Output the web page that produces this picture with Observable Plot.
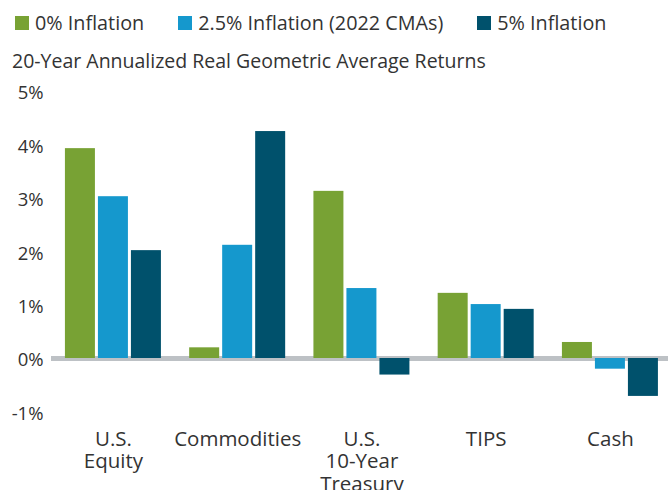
<!DOCTYPE html>
<html>
<head>
<meta charset="utf-8">
<script src="https://cdn.jsdelivr.net/npm/d3@7"></script>
<script src="https://cdn.jsdelivr.net/npm/@observablehq/plot@0.6"></script>
<style>
  html, body { margin: 0; padding: 0; background: #fff; }
  body { font-family: "Open Sans", sans-serif; color: #333; width: 668px; }
  #header { position: relative; height: 80px; width: 668px; }
  #legend { position: absolute; left: 15px; top: 13px; display: flex; gap: 34px; font-size: 19.8px; line-height: 20px; white-space: nowrap; }
  .item { display: flex; align-items: center; }
  .sw { width: 14px; height: 14px; margin-right: 6px; flex: none; }
  #subtitle { position: absolute; left: 12px; top: 51px; font-size: 19.5px; line-height: 20px; white-space: nowrap; }
  #chart svg { display: block; }
</style>
</head>
<body>
<div id="header">
  <div id="legend"></div>
  <div id="subtitle"></div>
</div>
<div id="chart"></div>
<script>
const categories = ["U.S.\nEquity", "Commodities", "U.S.\n10-Year\nTreasury", "TIPS", "Cash"];
const series = ["0% Inflation", "2.5% Inflation (2022 CMAs)", "5% Inflation"];
const inflation0 = [3.93, 0.2, 3.13, 1.22, 0.3];
const inflation25 = [3.03, 2.12, 1.31, 1.01, -0.2];
const inflation5 = [2.02, 4.25, -0.31, 0.92, -0.71];
const colors = ["#78a234", "#1598cd", "#00516c"];
const yTicks = [-1, 0, 1, 2, 3, 4, 5];
const subtitle = "20-Year Annualized Real Geometric Average Returns";

const seriesValues = [inflation0, inflation25, inflation5];
const data = categories.flatMap((c, i) =>
  series.map((s, j) => ({category: c, series: s, value: seriesValues[j][i]}))
);

// Legend & subtitle
const legend = document.getElementById("legend");
series.forEach((s, j) => {
  const item = document.createElement("div");
  item.className = "item";
  const sw = document.createElement("span");
  sw.className = "sw";
  sw.style.background = colors[j];
  const t = document.createElement("span");
  t.textContent = s;
  item.appendChild(sw);
  item.appendChild(t);
  legend.appendChild(item);
});
document.getElementById("subtitle").textContent = subtitle;

// group bandwidth 96px: three 30px bars with 3px gaps
const barStep = 33;
const barMarks = series.map((s, j) =>
  Plot.barY(data.filter(d => d.series === s), {
    x: "category", y: "value", fill: "series",
    insetLeft: j * barStep, insetRight: (series.length - 1 - j) * barStep
  })
);

const chart = Plot.plot({
  width: 668,
  height: 410,
  marginTop: 11,
  marginBottom: 78.6,
  marginLeft: 51,
  marginRight: 0,
  style: {fontFamily: "Open Sans, sans-serif", fontSize: "18px", color: "#333", background: "white", overflow: "hidden"},
  x: {domain: categories, paddingInner: 0.2274, paddingOuter: 0.0966, align: 0.58, round: false, axis: null},
  y: {domain: [-1, 5], axis: null},
  color: {domain: series, range: colors},
  marks: [
    Plot.ruleY([0], {stroke: "#bdc1c5", strokeWidth: 5}),
    ...barMarks,
    Plot.axisY(yTicks, {tickSize: 0, tickPadding: 8, tickFormat: d => d + "%", dy: 2, fontSize: 18.5, fill: "#333", label: null}),
    Plot.axisX({tickSize: 0, tickPadding: 18, lineAnchor: "top", fontSize: 20.5, lineHeight: 1.1, label: null, fill: "#333"})
  ]
});
document.getElementById("chart").appendChild(chart);
</script>
</body>
</html>
